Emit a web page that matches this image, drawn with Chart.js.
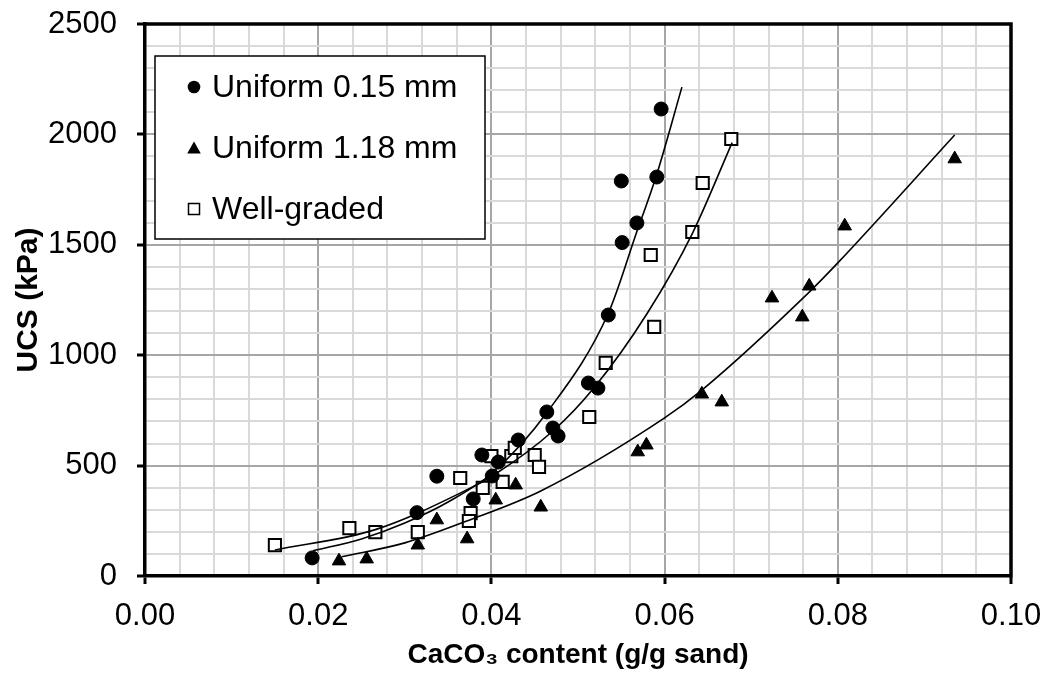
<!DOCTYPE html>
<html>
<head>
<meta charset="utf-8">
<script src="https://cdn.jsdelivr.net/npm/chart.js@4.4.1/dist/chart.umd.min.js"></script>
<style>
  html, body { margin: 0; padding: 0; background: #fff; }
  #wrap { width: 1046px; height: 682px; }
</style>
</head>
<body>
<div id="wrap"><canvas id="c" width="1046" height="682"></canvas></div>
<script>
// ---------------- data ----------------
const seriesNames = ['Uniform 0.15 mm', 'Uniform 1.18 mm', 'Well-graded'];

const uniform015X = [0.0193, 0.0314, 0.0337, 0.0379, 0.0389, 0.0401, 0.0408, 0.0431, 0.0464, 0.0471, 0.0477, 0.0512, 0.0523, 0.0535, 0.0550, 0.0551, 0.0568, 0.0591, 0.0596];
const uniform015Y = [82, 287, 452, 349, 548, 453, 516, 616, 743, 670, 634, 874, 851, 1182, 1789, 1510, 1599, 1807, 2115];

const uniform118X = [0.0224, 0.0256, 0.0315, 0.0337, 0.0372, 0.0405, 0.0428, 0.0457, 0.0569, 0.0579, 0.0643, 0.0666, 0.0724, 0.0759, 0.0767, 0.0808, 0.0935];
const uniform118Y = [68, 77, 140, 254, 168, 344, 412, 312, 562, 593, 824, 788, 1259, 1173, 1313, 1585, 1889];

const wellGradedX = [0.0150, 0.0236, 0.0266, 0.0315, 0.0364, 0.0376, 0.0374, 0.0390, 0.0400, 0.0413, 0.0423, 0.0427, 0.0450, 0.0455, 0.0513, 0.0532, 0.0588, 0.0584, 0.0632, 0.0644, 0.0677];
const wellGradedY = [140, 217, 199, 199, 444, 285, 249, 399, 543, 426, 543, 580, 548, 494, 720, 965, 1128, 1454, 1558, 1780, 1979];

// trend curves, points
const trend015X = [0.0194, 0.0250, 0.0300, 0.0350, 0.0402, 0.0465, 0.0535, 0.0568, 0.0591, 0.0620];
const trend015Y = [114, 168, 240, 335, 470, 745, 1190, 1560, 1820, 2214];

const trend118X = [0.0227, 0.0300, 0.0375, 0.0457, 0.0600, 0.0643, 0.0767, 0.0800, 0.0935];
const trend118Y = [87, 150, 254, 385, 716, 842, 1286, 1418, 1997];

const trendWGX = [0.0150, 0.0266, 0.0372, 0.0402, 0.0472, 0.0518, 0.0580, 0.0632, 0.0678];
const trendWGY = [118, 210, 391, 455, 660, 850, 1190, 1551, 1963];

const xTickLabels = ['0.00', '0.02', '0.04', '0.06', '0.08', '0.10'];
const yTickLabels = ['0', '500', '1000', '1500', '2000', '2500'];
const xMajor = 0.02, xMinor = 0.004, yMajor = 500, yMinor = 100;

// ---------------- helpers ----------------
const pts = (xs, ys) => xs.map((x, i) => ({ x: x, y: ys[i] }));
const FONT = "'Liberation Sans', Arial, sans-serif";
const isMajorX = v => Math.abs(v / xMajor - Math.round(v / xMajor)) < 1e-6;
const isMajorY = v => Math.abs(v / yMajor - Math.round(v / yMajor)) < 1e-6;

const frameAndLegend = {
  id: 'frameAndLegend',
  afterDraw(chart) {
    const ctx = chart.ctx, a = chart.chartArea;
    ctx.save();
    // top & right frame
    ctx.strokeStyle = '#000';
    ctx.lineWidth = 3.5;
    ctx.beginPath();
    ctx.moveTo(a.left - 1.75, a.top);
    ctx.lineTo(a.right, a.top);
    ctx.lineTo(a.right, a.bottom + 1.75);
    ctx.stroke();

    // legend box
    const bx = 155, by = 56, bw = 330, bh = 183;
    ctx.fillStyle = '#fff';
    ctx.fillRect(bx, by, bw, bh);
    ctx.lineWidth = 1.5;
    ctx.strokeStyle = '#000';
    ctx.strokeRect(bx, by, bw, bh);

    const rows = [87, 148, 209];
    const mx = 194, tx = 212;
    ctx.font = '32px ' + FONT;
    ctx.textBaseline = 'middle';
    ctx.textAlign = 'left';
    seriesNames.forEach((name, i) => {
      const y = rows[i];
      ctx.fillStyle = '#000';
      ctx.strokeStyle = '#000';
      ctx.lineWidth = 1.5;
      if (i === 0) {
        ctx.beginPath(); ctx.arc(mx, y, 6.3, 0, Math.PI * 2); ctx.fill();
      } else if (i === 1) {
        ctx.beginPath();
        ctx.moveTo(mx, y - 6.5); ctx.lineTo(mx + 6.8, y + 5.5); ctx.lineTo(mx - 6.8, y + 5.5);
        ctx.closePath(); ctx.fill();
      } else {
        ctx.fillStyle = '#fff';
        ctx.fillRect(mx - 5.5, y - 5.5, 11, 11);
        ctx.strokeRect(mx - 5.5, y - 5.5, 11, 11);
      }
      ctx.fillStyle = '#000';
      ctx.fillText(name, tx, y + 1);
    });
    ctx.restore();
  }
};

const scatterBase = {
  type: 'scatter',
  showLine: false,
  borderColor: '#000',
  backgroundColor: '#000',
  pointBorderWidth: 1,
  pointHoverRadius: 7
};
const lineBase = {
  type: 'line',
  showLine: true,
  fill: false,
  borderColor: '#000',
  borderWidth: 1.6,
  pointRadius: 0,
  pointHoverRadius: 0,
  cubicInterpolationMode: 'monotone'
};

new Chart(document.getElementById('c'), {
  type: 'scatter',
  data: {
    datasets: [
      Object.assign({}, lineBase, { label: seriesNames[0] + ' trend', data: pts(trend015X, trend015Y) }),
      Object.assign({}, lineBase, { label: seriesNames[1] + ' trend', data: pts(trend118X, trend118Y) }),
      Object.assign({}, lineBase, { label: seriesNames[2] + ' trend', data: pts(trendWGX, trendWGY) }),
      Object.assign({}, scatterBase, { label: seriesNames[0], data: pts(uniform015X, uniform015Y), pointStyle: 'circle', pointRadius: 7 }),
      Object.assign({}, scatterBase, { label: seriesNames[1], data: pts(uniform118X, uniform118Y), pointStyle: 'triangle', pointRadius: 7.8 }),
      Object.assign({}, scatterBase, { label: seriesNames[2], data: pts(wellGradedX, wellGradedY), pointStyle: 'rect', pointRadius: 8.6,
        backgroundColor: '#fff', pointBorderWidth: 2 })
    ]
  },
  options: {
    responsive: false,
    animation: false,
    devicePixelRatio: 1,
    layout: { padding: { left: 0, top: 24, right: 35, bottom: 0 } },
    plugins: { legend: { display: false }, tooltip: { enabled: false } },
    scales: {
      x: {
        type: 'linear',
        min: 0, max: 0.10,
        afterFit(scale) {
          scale.height = 106;
          scale.paddingLeft = 0; scale.paddingRight = 0;
        },
        afterBuildTicks(scale) {
          const n = Math.round(0.10 / xMinor);
          scale.ticks = Array.from({ length: n + 1 }, (_, i) => ({ value: +(i * xMinor).toFixed(4) }));
        },
        ticks: {
          autoSkip: false, maxRotation: 0, minRotation: 0,
          padding: 14,
          color: '#000',
          font: { family: FONT, size: 31 },
          callback(v) { return isMajorX(v) ? xTickLabels[Math.round(v / xMajor)] : ''; }
        },
        grid: {
          drawTicks: true, tickLength: 8,
          color: c => (c.tick && isMajorX(c.tick.value)) ? '#a6a6a6' : '#d9d9d9',
          lineWidth: 2,
          tickColor: c => (c.tick && isMajorX(c.tick.value)) ? '#000' : 'rgba(0,0,0,0)',
          tickWidth: 3
        },
        border: { display: true, color: '#000', width: 3.5 },
        title: {
          display: true,
          text: 'CaCO\u2083 content (g/g sand)',
          color: '#000',
          font: { family: FONT, size: 28, weight: 'bold' },
          padding: { top: 0, bottom: 10 }
        }
      },
      y: {
        type: 'linear',
        min: 0, max: 2500,
        afterFit(scale) {
          scale.width = 145;
          scale.paddingTop = 0; scale.paddingBottom = 0;
        },
        afterBuildTicks(scale) {
          const n = Math.round(2500 / yMinor);
          scale.ticks = Array.from({ length: n + 1 }, (_, i) => ({ value: i * yMinor }));
        },
        ticks: {
          autoSkip: false,
          padding: 20,
          color: '#000',
          font: { family: FONT, size: 31 },
          callback(v) { return isMajorY(v) ? yTickLabels[Math.round(v / yMajor)] : ''; }
        },
        grid: {
          drawTicks: true, tickLength: 8,
          color: c => (c.tick && isMajorY(c.tick.value)) ? '#a6a6a6' : '#d9d9d9',
          lineWidth: 2,
          tickColor: c => (c.tick && isMajorY(c.tick.value)) ? '#000' : 'rgba(0,0,0,0)',
          tickWidth: 3
        },
        border: { display: true, color: '#000', width: 3.5 },
        title: {
          display: true,
          text: 'UCS (kPa)',
          color: '#000',
          font: { family: FONT, size: 30, weight: 'bold' },
          padding: { top: 11, bottom: 0 }
        }
      }
    }
  },
  plugins: [frameAndLegend]
});
</script>
</body>
</html>
